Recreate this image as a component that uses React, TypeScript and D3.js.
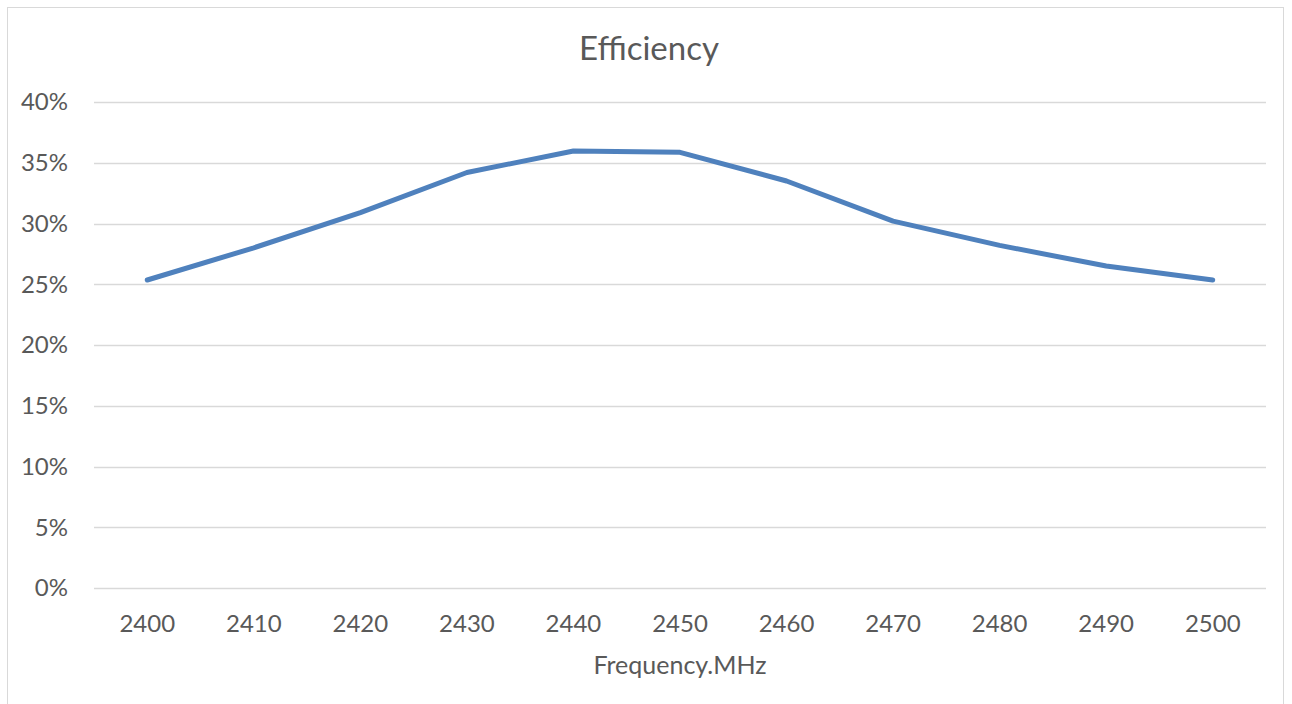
import React, { useRef, useEffect } from 'react';
import * as d3 from 'd3';

const frequencies = ['2400', '2410', '2420', '2430', '2440', '2450', '2460', '2470', '2480', '2490', '2500'];
const efficiency = [0.2535, 0.28, 0.309, 0.342, 0.3597, 0.3586, 0.335, 0.302, 0.282, 0.265, 0.2535];
const yTicks = [0, 0.05, 0.1, 0.15, 0.2, 0.25, 0.3, 0.35, 0.4];

const FONT = 'Lato, "Open Sans", sans-serif';
const TEXT = '#595959';

const App = () => {
  const ref = useRef<SVGSVGElement | null>(null);

  useEffect(() => {
    const width = 1292;
    const height = 704;
    const plot = { left: 94, right: 1266, top: 102, bottom: 588 };

    const svg = d3.select(ref.current);
    svg.selectAll('*').remove();

    svg
      .append('rect')
      .attr('x', 7.5)
      .attr('y', 7.5)
      .attr('width', 1283 - 7)
      .attr('height', 720)
      .attr('fill', '#ffffff')
      .attr('stroke', '#d9d9d9')
      .attr('stroke-width', 1);

    const x = d3
      .scaleBand()
      .domain(frequencies)
      .range([plot.left, plot.right]);

    const y = d3.scaleLinear().domain([0, 0.4]).range([plot.bottom, plot.top]);

    // gridlines
    svg
      .append('g')
      .selectAll('line')
      .data(yTicks)
      .join('line')
      .attr('x1', plot.left)
      .attr('x2', plot.right)
      .attr('y1', (d) => Math.round(y(d)) + 0.5)
      .attr('y2', (d) => Math.round(y(d)) + 0.5)
      .attr('stroke', '#d9d9d9')
      .attr('stroke-width', 1.5);

    // y labels
    svg
      .append('g')
      .selectAll('text')
      .data(yTicks)
      .join('text')
      .attr('x', 68)
      .attr('y', (d) => y(d))
      .attr('dy', '0.35em')
      .attr('text-anchor', 'end')
      .attr('font-family', FONT)
      .attr('font-size', 24)
      .attr('fill', TEXT)
      .text((d) => d3.format('.0%')(d));

    // x labels
    svg
      .append('g')
      .selectAll('text')
      .data(frequencies)
      .join('text')
      .attr('x', (d) => (x(d) as number) + x.bandwidth() / 2)
      .attr('y', 624)
      .attr('dy', '0.35em')
      .attr('text-anchor', 'middle')
      .attr('font-family', FONT)
      .attr('font-size', 24)
      .attr('fill', TEXT)
      .text((d) => d);

    const line = d3
      .line<number>()
      .x((_, i) => (x(frequencies[i]) as number) + x.bandwidth() / 2)
      .y((d) => y(d));

    svg
      .append('path')
      .datum(efficiency)
      .attr('fill', 'none')
      .attr('stroke', '#4f81bd')
      .attr('stroke-width', 5)
      .attr('stroke-linecap', 'round')
      .attr('stroke-linejoin', 'round')
      .attr('d', line);

    svg
      .append('text')
      .attr('x', 649)
      .attr('y', 48)
      .attr('dy', '0.35em')
      .attr('text-anchor', 'middle')
      .attr('font-family', FONT)
      .attr('font-size', 33)
      .attr('fill', TEXT)
      .text('Efficiency');

    svg
      .append('text')
      .attr('x', 680)
      .attr('y', 665)
      .attr('dy', '0.35em')
      .attr('text-anchor', 'middle')
      .attr('font-family', FONT)
      .attr('font-size', 25)
      .attr('fill', TEXT)
      .text('Frequency.MHz');

    svg.attr('width', width).attr('height', height);
  }, []);

  return (
    <svg
      ref={ref}
      width={1292}
      height={704}
      style={{ position: 'absolute', left: 0, top: 0, display: 'block' }}
    />
  );
};

export default App;
